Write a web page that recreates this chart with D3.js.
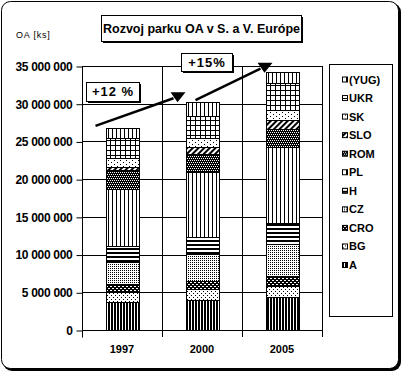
<!DOCTYPE html>
<html><head><meta charset="utf-8">
<script src="https://cdn.jsdelivr.net/npm/d3@7"></script>
<style>
html,body{margin:0;padding:0;background:#fff;}
svg{display:block;}
text{font-family:"Liberation Sans",Arial,sans-serif;fill:#000;}
</style></head>
<body><svg id="c" width="402" height="373"></svg>
<script>
// ---- data ----
const years = ["1997", "2000", "2005"];
const countries = ["A", "BG", "CRO", "CZ", "H", "PL", "ROM", "SLO", "SK", "UKR", "(YUG)"];
const vA    = [3.75e6, 3.98e6, 4.33e6];
const vBG   = [1.33e6, 1.41e6, 1.55e6];
const vCRO  = [0.98e6, 1.15e6, 1.28e6];
const vCZ   = [3.00e6, 3.49e6, 4.28e6];
const vH    = [2.14e6, 2.34e6, 2.70e6];
const vPL   = [7.50e6, 8.53e6, 10.06e6];
const vROM  = [2.50e6, 2.40e6, 2.45e6];
const vSLO  = [0.45e6, 0.90e6, 1.19e6];
const vSK   = [1.10e6, 1.20e6, 1.33e6];
const vUKR  = [2.75e6, 3.00e6, 3.53e6];
const vYUG  = [1.30e6, 1.80e6, 1.55e6];
const yTicks = [0, 5e6, 10e6, 15e6, 20e6, 25e6, 30e6, 35e6];
const title = "Rozvoj parku OA v S. a V. Európe";
const yTitle = "OA [ks]";
const growthLabels = ["+12 %", "+15%"];

const seriesVals = [vA, vBG, vCRO, vCZ, vH, vPL, vROM, vSLO, vSK, vUKR, vYUG];
const table = years.map((yr, i) => {
  const o = {year: yr};
  countries.forEach((c, k) => o[c] = seriesVals[k][i]);
  return o;
});

const svg = d3.select("#c");
const defs = svg.append("defs");

// ---- patterns ----
const pid = c => "p-" + c.replace(/[^A-Za-z0-9]/g, "");
function pat(c, w, h, draw, transform) {
  const p = defs.append("pattern").attr("id", pid(c)).attr("patternUnits", "userSpaceOnUse")
    .attr("width", w).attr("height", h);
  if (transform) p.attr("patternTransform", transform);
  p.append("rect").attr("width", w).attr("height", h).attr("fill", "#fff");
  draw(p);
}
const px = (p, x, y, w, h, f) => p.append("rect").attr("x", x).attr("y", y).attr("width", w).attr("height", h).attr("fill", f || "#000");
pat("A", 3, 3, p => px(p, 0, 0, 2, 3));
pat("BG", 4, 4, p => { px(p, 1, 1, 1, 1); px(p, 3, 3, 1, 1); });
pat("CRO", 4, 4, p => { px(p, 0, 0, 4, 4); px(p, 0, 0, 2, 1, "#fff"); px(p, 2, 2, 2, 1, "#fff"); });
pat("CZ", 2, 2, p => px(p, 0, 0, 1, 1));
pat("H", 4, 4, p => px(p, 0, 0, 4, 2));
pat("PL", 4, 4, p => px(p, 0, 0, 1, 4));
pat("ROM", 4, 4, p => { px(p, 0, 0, 4, 4); px(p, 0, 0, 1, 1, "#fff"); px(p, 2, 0, 1, 1, "#fff"); px(p, 1, 2, 1, 1, "#fff"); px(p, 3, 2, 1, 1, "#fff"); });
pat("SLO", 4, 4, p => px(p, 0, 0, 2, 4), "rotate(45)");
pat("SK", 6, 4, p => { px(p, 0, 0, 1, 1); px(p, 3, 2, 1, 1); });
pat("UKR", 5, 5, p => { px(p, 0, 0, 5, 1); px(p, 0, 0, 1, 5); });
pat("(YUG)", 4, 4, p => px(p, 0, 0, 1, 4));
const fillOf = c => `url(#${pid(c)})`;

// ---- outer frame ----
svg.append("rect").attr("x", 3).attr("y", 3).attr("width", 398).attr("height", 368).attr("rx", 9).attr("fill", "#000");
svg.append("rect").attr("x", 1.5).attr("y", 1.5).attr("width", 397).attr("height", 367).attr("rx", 9)
  .attr("fill", "#fff").attr("stroke", "#000").attr("stroke-width", 1);

// ---- scales ----
const plot = {l: 82, r: 322, t: 66, b: 330};
const x = d3.scaleBand().domain(years).range([plot.l, plot.r]).paddingInner(0.5875).paddingOuter(0.5875 / 2);
const y = d3.scaleLinear().domain([0, 35e6]).range([plot.b, plot.t]);
const locale = d3.formatLocale({decimal: ",", thousands: " ", grouping: [3], currency: ["", ""]});
const fmt = locale.format(",");

const g = svg.append("g");
// horizontal gridlines
g.selectAll("line.hg").data(yTicks).join("line")
  .attr("x1", plot.l).attr("x2", plot.r + 1)
  .attr("y1", d => Math.round(y(d)) + 0.5).attr("y2", d => Math.round(y(d)) + 0.5)
  .attr("stroke", "#000");
// vertical category gridlines
const bounds = d3.range(years.length + 1).map(i => plot.l + i * x.step());
g.selectAll("line.vg").data(bounds.slice(1)).join("line")
  .attr("x1", d => Math.round(d) + 0.5).attr("x2", d => Math.round(d) + 0.5)
  .attr("y1", plot.t).attr("y2", plot.b + 7).attr("stroke", "#000");

// y axis
const yAxis = d3.axisLeft(y).tickValues(yTicks).tickFormat(fmt).tickSize(6).tickPadding(4);
const ya = svg.append("g").attr("transform", `translate(${plot.l + 0.5},0.5)`).call(yAxis);
ya.select(".domain").attr("d", `M0,${plot.t}V${plot.b + 7}`).attr("stroke", "#000");
ya.selectAll(".tick line").attr("stroke", "#000");
ya.selectAll(".tick text").attr("font-size", 12).attr("font-weight", "bold")
  .attr("letter-spacing", -0.3).attr("font-family", "Liberation Sans, Arial, sans-serif").attr("fill", "#000");

// x axis labels
svg.append("g").selectAll("text").data(years).join("text")
  .attr("x", d => x(d) + x.bandwidth() / 2).attr("y", 353)
  .attr("text-anchor", "middle").attr("font-size", 11).attr("font-weight", "bold").text(d => d);

// ---- stacked bars ----
const stack = d3.stack().keys(countries)(table);
const bars = svg.append("g");
stack.forEach(layer => {
  bars.append("g").attr("fill", fillOf(layer.key))
    .selectAll("rect").data(layer).join("rect")
    .attr("x", d => Math.round(x(d.data.year)) + 0.5)
    .attr("y", d => Math.round(y(d[1])) + 0.5)
    .attr("width", Math.round(x.bandwidth()))
    .attr("height", d => Math.round(y(d[0])) - Math.round(y(d[1])))
    .attr("stroke", "#000").attr("stroke-width", 1);
});

// ---- y title ----
svg.append("text").attr("x", 16).attr("y", 38).attr("font-size", 9).attr("letter-spacing", 0.8).text(yTitle);

// ---- boxes with shadow ----
function shadowBox(x0, y0, w, h, label, fs, ls) {
  svg.append("rect").attr("x", x0 + 2).attr("y", y0 + 2).attr("width", w).attr("height", h).attr("fill", "#000");
  svg.append("rect").attr("x", x0 + 0.5).attr("y", y0 + 0.5).attr("width", w).attr("height", h)
    .attr("fill", "#fff").attr("stroke", "#000");
  svg.append("text").attr("x", x0 + w / 2 + 0.5).attr("y", y0 + h / 2 + fs * 0.36)
    .attr("text-anchor", "middle").attr("font-size", fs).attr("font-weight", "bold")
    .attr("letter-spacing", ls).text(label);
}
shadowBox(101, 15, 200, 26, title, 12.5, 0);

// ---- growth arrows ----
const totals = table.map(d => d3.sum(countries, c => d[c]));
function arrow(x1, y1, tx, ty) {
  svg.append("line").attr("x1", x1).attr("y1", y1).attr("x2", tx - 4).attr("y2", ty - 4)
    .attr("stroke", "#000").attr("stroke-width", 2.5);
  svg.append("polygon").attr("points", `${tx - 7},${ty - 10} ${tx + 8},${ty - 10} ${tx},${ty}`).attr("fill", "#000");
}
arrow(x(years[0]) - 10, y(totals[0]) - 2, x(years[1]) - 8, y(totals[1]));
arrow(x(years[1]) + 10, y(totals[1]) - 2, x(years[2]) - 1, y(totals[2]) + 1);
shadowBox(86, 82, 53, 19, growthLabels[0], 13, 1);
shadowBox(181, 53, 51, 18, growthLabels[1], 13, 1);

// ---- legend ----
svg.append("rect").attr("x", 329.5).attr("y", 64.5).attr("width", 63).attr("height", 252)
  .attr("fill", "#fff").attr("stroke", "#000");
const legendItems = countries.slice().reverse();
const lg = svg.append("g").selectAll("g").data(legendItems).join("g")
  .attr("transform", (d, i) => `translate(342,${79.5 + i * 18.55})`);
lg.append("rect").attr("x", 0.5).attr("y", -2.5).attr("width", 5).attr("height", 5)
  .attr("fill", d => fillOf(d)).attr("stroke", "#000");
lg.append("text").attr("x", 7).attr("y", 4).attr("font-size", 11).attr("font-weight", "bold").text(d => d);
</script></body></html>
